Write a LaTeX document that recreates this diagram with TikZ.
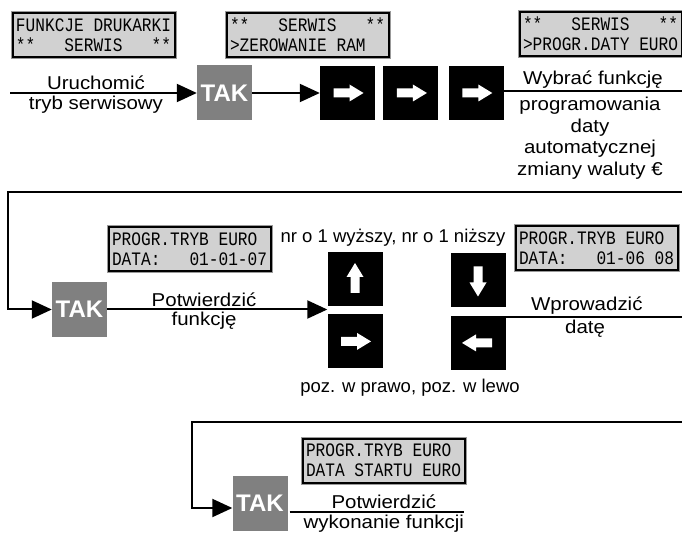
\documentclass[tikz,border=0pt]{standalone}
\usepackage{fontspec}
\setmainfont{Liberation Sans}
\newfontfamily\lcdfont[FakeStretch=0.85]{Liberation Mono}
\newfontfamily\lblfont[FakeStretch=1.1]{Liberation Sans}
\usetikzlibrary{arrows.meta,positioning}

\tikzset{
  lcd/.style={draw=black, line width=2pt, fill=black!18,
    preaction={draw=black!40, line width=4pt},
    text width=156pt, inner xsep=3pt, minimum height=44pt, align=left,
    font=\lcdfont\fontsize{19}{20}\selectfont},
  tak/.style={fill=black!50, text=white, minimum size=55pt, inner sep=0pt,
    font=\bfseries\fontsize{24}{24}\selectfont},
  key/.style={fill=black, minimum width=55pt, minimum height=54pt, inner sep=0pt},
  lbl/.style={font=\lblfont\fontsize{18.6}{21.5}\selectfont, inner sep=2pt, align=center},
  note/.style={font=\fontsize{18.5}{20}\selectfont, inner sep=0pt},
  flow/.style={line width=2pt, -{Triangle[length=20pt,width=18pt]}},
  rule/.style={line width=2pt},
}

% pole znaku na wyswietlaczu i gwiazdki
\newcommand\lsp{\hphantom{X}}
\newcommand\stars{**}

% biala strzalka na klawiszu
\newcommand\keyarrow[2]{%
  \fill[white, shift={(#1.center)}, rotate=#2]
    (-14,-4.5) -- (2,-4.5) -- (2,-8.5) -- (16,0) -- (2,8.5) -- (2,4.5) -- (-14,4.5) -- cycle;}

\begin{document}
\begin{tikzpicture}[x=1pt, y=-1pt]
  \useasboundingbox (0,0) rectangle (682,534);

  % wejscie w tryb serwisowy
  \node[lcd] (lcd1) at (94,35) {FUNKCJE\lsp DRUKARKI\\\stars\lsp\lsp\lsp SERWIS\lsp\lsp\lsp\stars};
  \node[lcd] (lcd2) at (308,35) {\stars\lsp\lsp\lsp SERWIS\lsp\lsp\lsp\stars\\>ZEROWANIE\lsp RAM};
  \node[lcd] (lcd3) at (601,34) {\stars\lsp\lsp\lsp SERWIS\lsp\lsp\lsp\stars\\>PROGR.DATY\lsp EURO};

  \node[tak] (tak1) at (224.5,93) {TAK};
  \node[key] (k1) at (347.5,93) {};
  \node[key, right=8pt of k1] (k2) {};
  \node[key, right=10pt of k2] (k3) {};
  \keyarrow{k1}{0} \keyarrow{k2}{0} \keyarrow{k3}{0}

  \coordinate (start) at (10,93);
  \coordinate (end1) at (682,91);
  \draw[flow] (start) -- (tak1)
    node[lbl, pos=.46, above] (l1a) {Uruchomić}
    node[lbl, pos=.46, below] (l1b) {tryb serwisowy};
  \draw[flow] (tak1) -- (k1);
  \draw[rule] (k3.east |- end1) -- (end1)
    node[lbl, pos=.5, above] (l2a) {Wybrać funkcję};
  \node[lbl, anchor=north] (l2b) at (590,95) {programowania\\daty\\automatycznej\\zmiany waluty €};

  % programowanie daty
  \coordinate (loop1) at (682,192);
  \node[tak] (tak2) at (79.5,309.5) {TAK};
  \node[lcd] (lcd4) at (190,249) {PROGR.TRYB\lsp EURO\\DATA:\lsp\lsp\lsp 01-01-07};
  \node[key] (kup) at (355,279) {};
  \node[key, below=8pt of kup] (kright) {};
  \node[key] (kdown) at (478,280.5) {};
  \node[key, below=8pt of kdown] (kleft) {};
  \keyarrow{kup}{90} \keyarrow{kright}{0} \keyarrow{kdown}{-90} \keyarrow{kleft}{180}
  \node[note] (nr) at (393,238) {nr o 1 wyższy, nr o 1 niższy};
  \node[note] (poz) at (410,388) {poz. w prawo, poz. w lewo};
  \node[lcd] (lcd5) at (597,248.5) {PROGR.TRYB\lsp EURO\\DATA:\lsp\lsp\lsp 01-06\lsp 08};

  \draw[flow] (loop1) -| ([xshift=-44pt]tak2.west) -- (tak2);
  \draw[flow] (tak2) -- (tak2 -| kup.west)
    node[lbl, pos=.44, above] (l3a) {Potwierdzić}
    node[lbl, pos=.44, below] (l3b) {funkcję};
  \coordinate (end2) at (682,317);
  \draw[rule] (kleft.east |- end2) -- (end2)
    node[lbl, pos=.46, above] (l4a) {Wprowadzić}
    node[lbl, pos=.45, below] (l4b) {datę};

  % potwierdzenie
  \coordinate (loop2) at (682,422);
  \coordinate (end3) at (464,512);
  \node[tak] (tak3) at (260,503) {TAK};
  \node[lcd] (lcd6) at (384,460.5) {PROGR.TRYB\lsp EURO\\DATA\lsp STARTU\lsp EURO};
  \draw[flow] (loop2) -| ([xshift=-40pt,yshift=-5pt]tak3.west) -- ([yshift=-5pt]tak3.west);
  \draw[rule] ([xshift=2pt]tak3.east |- end3) -- (end3)
    node[lbl, pos=.54, above] (l5a) {Potwierdzić}
    node[lbl, pos=.54, below] (l5b) {wykonanie funkcji};
\end{tikzpicture}
\end{document}
